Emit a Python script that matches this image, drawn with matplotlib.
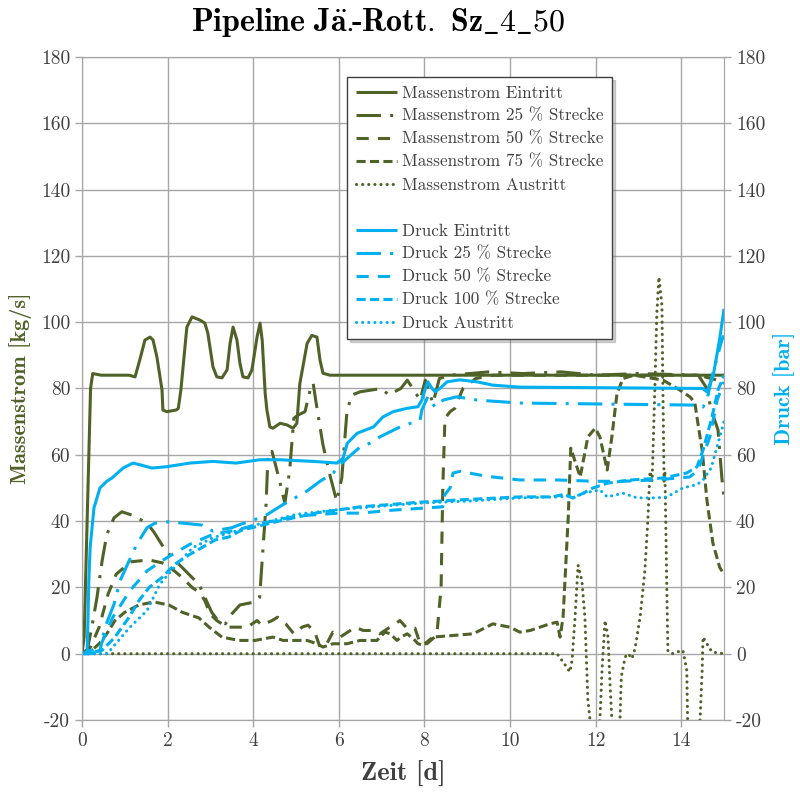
import matplotlib
matplotlib.use("Agg")
import matplotlib.pyplot as plt
from matplotlib.lines import Line2D

plt.rcParams['font.family'] = ['cmr10', 'DejaVu Serif']
plt.rcParams['axes.unicode_minus'] = False
plt.rcParams['mathtext.fontset'] = 'cm'

GREEN = '#4F6228'
BLUE = '#00B0F0'
GRID = '#A6A6A6'
TXT = '#404040'

# Massenstrom [kg/s]
me_t = [0, 0.05, 0.2, 0.25, 0.45, 1.1, 1.24, 1.35, 1.47, 1.59, 1.66, 1.75, 1.87, 1.89, 1.98, 2.2,
        2.25, 2.31, 2.45, 2.57, 2.76, 2.87, 2.94, 3.06, 3.15, 3.27, 3.39, 3.46, 3.53, 3.62, 3.69,
        3.76, 3.88, 3.97, 4.09, 4.16, 4.21, 4.28, 4.32, 4.39, 4.46, 4.63, 4.79, 4.93, 5.02, 5.09,
        5.26, 5.37, 5.49, 5.56, 5.63, 5.79, 15]
me_v = [0, 5, 80, 84.5, 84, 84, 83.5, 88.6, 94.6, 95.5, 94.6, 89.5, 79.5, 73.5, 73, 73.5,
        74, 79.5, 98.5, 101.6, 100.6, 99.7, 96.7, 86.5, 83.5, 83.2, 85.6, 93.7, 98.5, 94.6, 87.6,
        83.5, 83.2, 85.6, 95.5, 99.7, 94.6, 78.5, 73.5, 68.4, 68, 69.5, 69, 68, 69.5, 81.5,
        93.6, 96, 95.5, 88.6, 84.6, 84, 84]

m25_t = [0, 0.12, 0.23, 0.35, 0.47, 0.58, 0.75, 0.93, 1.17, 1.52, 1.68, 1.87, 2.1, 2.34, 2.57,
         2.73, 2.87, 3.03, 3.2, 3.35, 3.5, 3.69, 4.04, 4.15, 4.3, 4.35, 4.44, 4.6, 4.74, 4.85,
         4.95, 5.05, 5.21, 5.33, 5.4, 5.49, 5.63, 5.77, 5.95, 6.07, 6.19, 6.3, 6.5, 7.0, 7.17,
         7.3, 7.45, 7.6, 7.73, 7.9, 8.02, 8.2, 8.35, 8.6, 9.5, 10.3, 11.2, 12.0, 13.0, 14.4,
         14.6, 14.7, 14.86, 14.95, 15]
m25_v = [0, 1, 8, 17, 28, 36, 41, 42.8, 41.8, 39.4, 36.7, 32.8, 29, 26, 23,
         21, 17, 12.5, 9.6, 9, 12, 14.7, 15.6, 17, 45, 61, 61, 53, 45.4, 55,
         71, 72, 73, 79.5, 81.6, 74, 63, 55, 46, 53, 73, 78, 79, 80, 78,
         79, 80, 82.5, 80, 76.5, 82.5, 75.5, 83, 84, 85, 84.5, 85, 84, 84.5, 84,
         80, 73.5, 67.5, 53, 47]

m50_t = [0, 0.2, 0.4, 0.61, 0.8, 1.14, 1.56, 1.87, 2.06, 2.34, 2.57, 2.76, 2.87, 2.99, 3.15,
         3.39, 3.86, 4.09, 4.2, 4.44, 4.57, 4.76, 4.95, 5.14, 5.28, 5.44, 5.56, 5.72, 5.86,
         6.03, 6.21, 6.38, 6.57, 6.8, 6.96, 7.43, 7.59, 7.78, 7.9, 8.06, 8.29, 8.39, 8.43,
         8.48, 8.6, 8.71, 8.9, 9.2, 9.6, 14.4, 14.7, 15]
m50_v = [0, 2, 8, 18, 24, 27.7, 28.3, 27.4, 26, 23, 20, 18.3, 16, 12, 10,
         8, 8, 10, 8.6, 10, 11, 9, 6, 8, 8.6, 6.5, 2, 3, 6.5,
         5, 6.5, 8, 7, 7, 6, 10, 7.7, 7.7, 3, 3, 5.6, 20, 50,
         71, 73, 74, 80, 83, 84, 84, 83, 82]

m75_t = [0, 0.23, 0.4, 0.58, 0.77, 1.0, 1.33, 1.68, 2.03, 2.34, 2.73, 2.97, 3.27, 3.67, 4.04,
         4.46, 4.7, 4.93, 5.26, 5.49, 5.63, 5.86, 6.19, 6.5, 6.89, 7.08, 7.2, 7.36, 7.45, 7.6,
         7.78, 7.85, 7.97, 8.2, 9.14, 9.6, 10.0, 10.23, 10.47, 10.93, 11.1, 11.17, 11.24, 11.36,
         11.42, 11.64, 11.82, 11.99, 12.1, 12.27, 12.38, 12.5, 12.64, 12.9, 13.58, 13.97, 14.21,
         14.32, 14.39, 14.49, 14.6, 14.74, 14.9, 15]
m75_v = [0, 1, 3, 6, 10, 12.5, 14.7, 15.6, 14.7, 12.5, 10.8, 8, 5, 4, 4,
         5, 4, 4, 4, 3, 2, 3, 3, 4, 4, 6.5, 6, 4, 5, 6,
         4, 3, 2.6, 5, 6, 9, 8, 6.5, 7, 9, 9.5, 5, 11, 41,
         62, 53.3, 65.4, 68, 65.4, 55.4, 65.4, 78.5, 83, 84, 82.5, 79.5, 77.4,
         75.6, 69.5, 61.4, 46.4, 33.4, 26, 24]

mA_t = [0, 11.1, 11.24, 11.4, 11.45, 11.52, 11.59, 11.68, 11.75, 11.82, 11.87, 11.98, 12.1,
        12.15, 12.22, 12.29, 12.34, 12.38, 12.47, 12.57, 12.6, 12.69, 12.76, 12.85, 12.92,
        13.04, 13.15, 13.22, 13.27, 13.32, 13.39, 13.43, 13.48, 13.55, 13.57, 13.6, 13.62,
        13.67, 13.69, 13.79, 13.9, 14.04, 14.13, 14.15, 14.3, 14.44, 14.49, 14.51, 14.6,
        14.72, 15]
mA_v = [0, 0, -2.5, -5.5, -2, 11, 26.7, 22, 11, -14, -20, -40, -20,
        -5, 10, 5, -10, -20, -40, -20, -7, -1, 0, -1.5, 1.5,
        11, 25, 40, 55, 52, 82.5, 102.6, 113.6, 105, 82.5, 52, 55,
        14.8, 0.7, 0, 0.5, 1, -5, -20, -40, -20, -5, 5, 3,
        0.5, 0]

# Druck [bar]
de_t = [0, 0.12, 0.16, 0.19, 0.28, 0.42, 0.58, 0.7, 0.96, 1.19, 1.35, 1.63, 1.98, 2.52, 3.06,
        3.6, 4.16, 4.63, 5.4, 5.96, 6.1, 6.2, 6.43, 6.73, 6.81, 7.03, 7.27, 7.59, 7.85, 7.94,
        8.01, 8.08, 8.18, 8.25, 8.36, 8.53, 8.83, 9.23, 9.6, 10.23, 14.5, 14.6, 14.75, 14.9, 15]
de_v = [0, 0, 22, 32, 44, 50, 52, 53, 56, 57.5, 57, 56, 56.4, 57.5, 58,
        57.5, 58.5, 58.5, 58, 57.5, 59, 63.5, 66.5, 68, 68.4, 71.4, 73, 74, 74.5, 76.5,
        79.5, 82, 80, 79, 80, 82, 82.6, 82, 81, 80.4, 80, 79, 84, 95, 104]

d25_t = [0, 0.2, 0.42, 0.54, 0.75, 0.89, 1.1, 1.28, 1.52, 1.71, 2.03, 2.8, 3.05, 3.5, 3.7,
         4.16, 4.33, 4.7, 5.25, 5.56, 5.87, 6.03, 6.5, 6.73, 6.96, 7.43, 7.9, 7.94, 8.08, 8.18,
         8.25, 8.44, 8.76, 9.23, 10.23, 14.2, 14.44, 14.51, 14.6, 14.74, 14.95, 15]
d25_v = [0, 0, 1, 8, 15, 22, 28, 33, 38, 39.4, 39.8, 38.8, 37, 38, 39,
         41, 42, 45, 49, 52, 54.5, 57, 62.4, 63.5, 65.4, 68.4, 70.5, 73.5, 77.5, 75.6,
         74.4, 76.5, 77.5, 76.5, 75.6, 75, 75, 74.4, 76.5, 84.6, 94.6, 96]

d50_t = [0, 0.42, 0.72, 1.12, 1.52, 1.99, 2.52, 3.06, 3.62, 4.09, 5.0, 6.0, 6.5, 7.27, 8.43,
         8.48, 8.6, 8.67, 8.83, 9.46, 10.23, 11.1, 12.0, 12.6, 13.4, 14.2, 14.4, 14.5, 14.67,
         14.84, 15]
d50_v = [0, 2, 11, 19, 25, 29, 33, 36, 37.3, 39, 41.5, 42.4, 42.4, 43.3, 44.3,
         48, 50, 54.5, 55, 53.5, 52.4, 52.4, 52, 52, 52.4, 53.3, 55.4, 59.4, 65.4,
         76.5, 82]

d100_t = [0, 0.47, 0.77, 1.1, 1.33, 1.57, 1.87, 2.17, 2.5, 2.8, 3.11, 3.43, 3.74, 4.04, 4.6,
          5.5, 6.5, 7.9, 8.83, 10.23, 11.0, 11.24, 11.47, 11.71, 11.94, 12.27, 12.8, 13.58,
          14.13, 14.37, 14.51, 14.72, 14.86, 15]
d100_v = [0, 1, 5, 11, 16, 20, 23, 27, 29.8, 32, 34.3, 35.2, 37.3, 38.2, 40,
          42.5, 44.3, 45.7, 46.4, 47.3, 47.3, 48, 47, 48.4, 50, 51.4, 52.4, 53,
          54.5, 56.4, 61.4, 71.4, 79.5, 84]

dA_t = [0, 0.59, 1.12, 1.52, 1.82, 2.22, 2.59, 3.06, 3.6, 4.1, 5.0, 6.0, 7.0, 8.0, 9.0, 10.23,
        11.2, 11.3, 11.47, 11.71, 12.1, 12.27, 12.64, 12.97, 13.43, 13.67, 14.04, 14.37, 14.51,
        14.7, 14.85, 15]
dA_v = [0, 0, 8, 13, 21, 27, 32, 35, 37, 39, 42, 43.5, 44.5, 45.5, 46, 47,
        47.3, 47.9, 47, 48.4, 49.4, 47.3, 48.4, 47, 47, 47.3, 50, 51, 52.4,
        56, 63, 70]

styles = {
    'solid': (0, ()),
    'lgdashdot': (0, (8, 3, 1, 3)),
    'dash': (0, (4, 3)),
    'sysdash': (0, (3, 1.4)),
    'dot': (0, (0.05, 1.95)),
}

fig = plt.figure(figsize=(8, 7.94), dpi=100)
ax = fig.add_axes([0.1025, 0.0932, 0.8025, 0.8351])
ax2 = ax.twinx()

lw = 2.2
mass = [
    (me_t, me_v, 'solid', 'Massenstrom Eintritt'),
    (m25_t, m25_v, 'lgdashdot', 'Massenstrom 25 % Strecke'),
    (m50_t, m50_v, 'dash', 'Massenstrom 50 % Strecke'),
    (m75_t, m75_v, 'sysdash', 'Massenstrom 75 % Strecke'),
    (mA_t, mA_v, 'dot', 'Massenstrom Austritt'),
]
druck = [
    (de_t, de_v, 'solid', 'Druck Eintritt'),
    (d25_t, d25_v, 'lgdashdot', 'Druck 25 % Strecke'),
    (d50_t, d50_v, 'dash', 'Druck 50 % Strecke'),
    (d100_t, d100_v, 'sysdash', 'Druck 100 % Strecke'),
    (dA_t, dA_v, 'dot', 'Druck Austritt'),
]

handles = []
for t, v, st, lab in mass:
    cap = 'round' if st == 'dot' else 'butt'
    l, = ax.plot(t, v, color=GREEN, lw=lw, linestyle=styles[st], dash_capstyle=cap, label=lab)
    handles.append(l)
handles.append(Line2D([], [], color='none', label=' '))
for t, v, st, lab in druck:
    cap = 'round' if st == 'dot' else 'butt'
    l, = ax2.plot(t, v, color=BLUE, lw=lw, linestyle=styles[st], dash_capstyle=cap, label=lab)
    handles.append(l)

for a in (ax, ax2):
    a.set_xlim(0, 15)
    a.set_ylim(-20, 180)
    a.set_yticks(range(-20, 181, 20))
    for s in a.spines.values():
        s.set_color(GRID)
    a.tick_params(colors=GRID, labelcolor=TXT, labelsize=14, length=5, width=1)

ax.set_xticks(range(0, 15, 2))
ax.grid(True, color=GRID, lw=1)
ax.set_axisbelow(True)

bold = ['cmb10', 'DejaVu Serif']
fig.text(0.4725, 0.972, r'$\mathbf{Pipeline\ J\ddot{a}.}\!\!$-$\mathbf{Rott.\ Sz\_4\_50}$',
         fontsize=23, family=bold, color='black', ha='center', va='center')
ax.set_xlabel('Zeit [d]', fontsize=19, family=bold, color=TXT, labelpad=8)
ax.set_ylabel('Massenstrom [kg/s]', fontsize=16, family=bold, color=GREEN, labelpad=6)
ax2.set_ylabel('Druck [bar]', fontsize=16, family=bold, color=BLUE, labelpad=6)

leg = ax2.legend(handles=handles, loc='upper left', bbox_to_anchor=(0.413, 0.97),
                 fontsize=12.3, frameon=True, fancybox=False,
                 shadow={'color': '#808080', 'alpha': 0.35},
                 edgecolor=TXT, handlelength=2.4, labelspacing=0.45, borderpad=0.5,
                 handletextpad=0.3, borderaxespad=0)
leg.get_frame().set_linewidth(1)
for tx in leg.get_texts():
    tx.set_color(TXT)

fig.savefig('out.png', dpi=100)
